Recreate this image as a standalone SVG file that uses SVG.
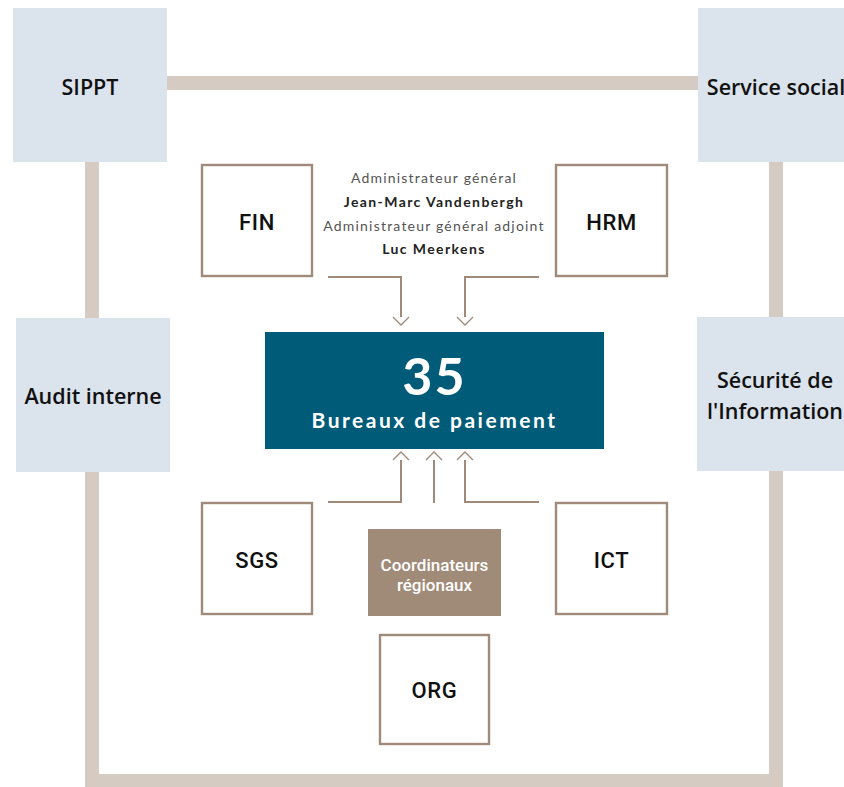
<svg xmlns="http://www.w3.org/2000/svg" width="844" height="787" viewBox="0 0 844 787">
  <style>
    .frame { fill: #d5cbc2; }
    .side { fill: #dbe3ec; }
    .side-t { font-family: "Open Sans", "Noto Sans", sans-serif; font-size: 21.5px; font-weight: 600; fill: #111; text-anchor: middle; }
    .dept { fill: #ffffff; stroke: #a08b7a; stroke-width: 2.4; }
    .dept-t { font-family: "Roboto", "Liberation Sans", sans-serif; font-size: 22px; font-weight: 500; fill: #111; text-anchor: middle; letter-spacing: 0.6px; }
    .wire { fill: none; stroke: #a08b7a; stroke-width: 2; }
    .admin { font-family: "Lato", "Liberation Sans", sans-serif; font-size: 14px; fill: #555; text-anchor: middle; letter-spacing: 1.2px; }
    .admin-b { font-family: "Lato", "Liberation Sans", sans-serif; font-size: 14px; font-weight: bold; fill: #222; text-anchor: middle; letter-spacing: 1.4px; }
  </style>
  <defs>
    <!-- open chevron; its base sits on the line end, the tip extends 8px past it -->
    <marker id="chev" viewBox="0 0 10 18" refX="1" refY="9" markerWidth="10" markerHeight="18" markerUnits="userSpaceOnUse" orient="auto">
      <path d="M1,1 L9,9 L1,17" fill="none" stroke="#a08b7a" stroke-width="1.3"/>
    </marker>
  </defs>
  <rect width="844" height="787" fill="#ffffff"/>

  <!-- outer frame bars linking the staff services -->
  <g id="frame">
    <rect class="frame" x="167" y="76" width="531" height="14"/>
    <rect class="frame" x="85" y="160" width="14" height="627"/>
    <rect class="frame" x="769" y="160" width="14" height="627"/>
    <rect class="frame" x="85" y="774" width="698" height="14"/>
  </g>

  <g id="sippt">
    <rect class="side" x="13" y="8" width="154" height="154"/>
    <text class="side-t" x="90" y="95">SIPPT</text>
  </g>
  <g id="service-social">
    <rect class="side" x="698" y="8" width="154" height="154"/>
    <text class="side-t" x="776" y="95">Service social</text>
  </g>
  <g id="audit-interne">
    <rect class="side" x="16" y="318" width="154" height="154"/>
    <text class="side-t" x="93" y="404">Audit interne</text>
  </g>
  <g id="securite">
    <rect class="side" x="697" y="317" width="154" height="154"/>
    <text class="side-t" x="775" y="388">Sécurité de</text>
    <text class="side-t" x="775" y="419">l'Information</text>
  </g>

  <g id="direction">
    <text class="admin" x="434" y="183">Administrateur général</text>
    <text class="admin-b" x="434" y="207">Jean-Marc Vandenbergh</text>
    <text class="admin" x="434" y="231">Administrateur général adjoint</text>
    <text class="admin-b" x="434" y="254">Luc Meerkens</text>
  </g>

  <g id="fin">
    <rect class="dept" x="202" y="165" width="110" height="111"/>
    <text class="dept-t" x="257" y="230">FIN</text>
  </g>
  <g id="hrm">
    <rect class="dept" x="556" y="165" width="111" height="111"/>
    <text class="dept-t" x="611.5" y="230">HRM</text>
  </g>
  <g id="sgs">
    <rect class="dept" x="202" y="503" width="110" height="111"/>
    <text class="dept-t" x="257" y="568">SGS</text>
  </g>
  <g id="ict">
    <rect class="dept" x="556" y="503" width="111" height="111"/>
    <text class="dept-t" x="611.5" y="568">ICT</text>
  </g>
  <g id="org">
    <rect class="dept" x="380" y="635" width="109" height="109"/>
    <text class="dept-t" x="434.5" y="698">ORG</text>
  </g>

  <g id="coordinateurs">
    <rect x="368" y="529" width="133" height="87" fill="#a08b78"/>
    <text x="434.5" y="571" font-family="Roboto, 'Liberation Sans', sans-serif" font-size="17" font-weight="500" fill="#ffffff" text-anchor="middle">Coordinateurs</text>
    <text x="434.5" y="591" font-family="Roboto, 'Liberation Sans', sans-serif" font-size="17" font-weight="500" fill="#ffffff" text-anchor="middle">régionaux</text>
  </g>

  <g id="bureaux">
    <rect x="265" y="332" width="339" height="117" fill="#005b79"/>
    <text x="434.5" y="395" font-family="Lato, 'Liberation Sans', sans-serif" font-size="52" font-weight="bold" fill="#ffffff" text-anchor="middle" letter-spacing="2">35</text>
    <text x="434.5" y="428" font-family="Lato, 'Liberation Sans', sans-serif" font-size="21" font-weight="bold" fill="#ffffff" text-anchor="middle" letter-spacing="2.5">Bureaux de paiement</text>
  </g>

  <g id="connectors">
    <path class="wire" d="M328,277 H401 V317" marker-end="url(#chev)"/>
    <path class="wire" d="M539,277 H465 V317" marker-end="url(#chev)"/>
    <path class="wire" d="M328,502 H401 V460" marker-end="url(#chev)"/>
    <path class="wire" d="M434,503 V460" marker-end="url(#chev)"/>
    <path class="wire" d="M539,502 H465 V460" marker-end="url(#chev)"/>
  </g>
</svg>
